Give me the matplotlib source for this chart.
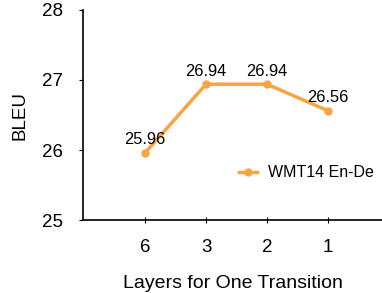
import matplotlib
matplotlib.use("Agg")
import matplotlib.pyplot as plt

plt.rcParams['font.family'] = ['Liberation Sans', 'DejaVu Sans']

layers = ["6", "3", "2", "1"]
bleu = [25.96, 26.94, 26.94, 26.56]
series_name = "WMT14 En-De"
color = "#F8A445"

fig = plt.figure(figsize=(3.82, 2.93), dpi=100)
ax = fig.add_axes([0.217, 0.249, 0.783, 0.717])

x = list(range(len(layers)))
ax.plot(x, bleu, color=color, lw=2.5, marker="o", ms=5, label=series_name)
for xi, yi in zip(x, bleu):
    ax.annotate(f"{yi:.2f}", (xi, yi), xytext=(0, 4), textcoords="offset points",
                ha="center", va="bottom", fontsize=11.8)

ax.set_xlim(-1.02, 3.885)
ax.set_ylim(25, 28)
ax.set_yticks([25, 26, 27, 28])
ax.set_xticks(x)
ax.set_xticklabels(layers)
ax.spines["top"].set_visible(False)
ax.spines["right"].set_visible(False)
ax.spines["left"].set_linewidth(1.2)
ax.spines["bottom"].set_linewidth(1.2)
ax.tick_params(axis="y", direction="out", length=3, labelsize=13.5, pad=11)
ax.tick_params(axis="x", direction="inout", length=4, labelsize=13.5, pad=12)

ax.set_ylabel("BLEU", fontsize=13.5, labelpad=10)
ax.set_xlabel("Layers for One Transition", fontsize=14, labelpad=13)

ax.legend(loc="center right", bbox_to_anchor=(1.0, 0.224), frameon=False,
          fontsize=11.5, handlelength=1.1, handletextpad=0.7, borderaxespad=0.1)

fig.savefig("out.png", dpi=100)
